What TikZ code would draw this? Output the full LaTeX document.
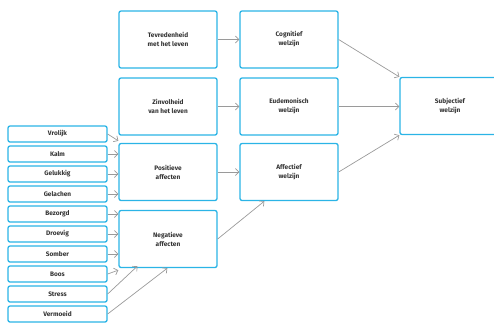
\documentclass[tikz,border=0pt]{standalone}
\usepackage{fontspec}
\setmainfont{Fira Sans}
\usetikzlibrary{arrows.meta}
\definecolor{kader}{HTML}{2BB4E6}
\definecolor{pijlgrijs}{HTML}{9A9A9A}
\definecolor{tekst}{HTML}{333333}
\tikzset{
  blok/.style={draw=kader, line width=1.3pt, rounded corners=2pt, fill=white,
               minimum width=98pt, minimum height=57pt, align=center,
               text=tekst, font=\fontsize{6.5}{9}\selectfont\bfseries},
  item/.style={blok, minimum width=99pt, minimum height=16pt},
  pijl/.style={draw=pijlgrijs, line width=0.7pt, -{Straight Barb[length=3.5pt,width=7pt]}}
}
\begin{document}
\begin{tikzpicture}[x=1pt,y=-1pt]
                                \clip (0,0) rectangle (494,322);
                                \node[blok] (tev) at (168,39.5) {Tevredenheid\\met het leven};
                                \node[blok] (cog) at (289,39.5) {Cognitief\\welzijn};
                                \node[blok] (zin) at (168,106.5) {Zinvolheid\\van het leven};
                                \node[blok] (eud) at (289,106.5) {Eudemonisch\\welzijn};
                                \node[blok,minimum width=100pt] (subj) at (450,106) {Subjectief\\welzijn};
                                \node[blok] (pos) at (168,172) {Positieve\\affecten};
                                \node[blok] (aff) at (289,172) {Affectief\\welzijn};
                                \node[blok] (neg) at (168,239) {Negatieve\\affecten};
                                % losse emoties links
                                \node[item] (vrolijk) at (57.5,134) {Vrolijk};
                                \node[item] (kalm) at (57.5,154) {Kalm};
                                \node[item] (gelukkig) at (57.5,174) {Gelukkig};
                                \node[item] (gelachen) at (57.5,194) {Gelachen};
                                \node[item] (bezorgd) at (57.5,214) {Bezorgd};
                                \node[item] (droevig) at (57.5,234) {Droevig};
                                \node[item] (somber) at (57.5,254) {Somber};
                                \node[item] (boos) at (57.5,274) {Boos};
                                \node[item] (stress) at (57.5,294) {Stress};
                                \node[item] (vermoeid) at (57.5,314) {Vermoeid};
                                % pijlen
                                \draw[pijl] (vrolijk.east) -- ([yshift=2pt]pos.north west);
                                \draw[pijl] (kalm.east) -- (pos.west |- kalm.east);
                                \draw[pijl] (gelukkig.east) -- (pos.west |- gelukkig.east);
                                \draw[pijl] (gelachen.east) -- (pos.west |- gelachen.east);
                                \draw[pijl] (bezorgd.east) -- (neg.west |- bezorgd.east);
                                \draw[pijl] (droevig.east) -- (neg.west |- droevig.east);
                                \draw[pijl] (somber.east) -- (neg.west |- somber.east);
                                \draw[pijl] (boos.east) -- ([yshift=-2pt]neg.south west);
                                \draw[pijl] (stress.east) -- ([xshift=19pt,yshift=2pt]neg.south west);
                                \draw[pijl] (vermoeid.east) -- ([xshift=49pt]neg.south west);
                                \draw[pijl] (tev) -- (cog);
                                \draw[pijl] (zin) -- (eud);
                                \draw[pijl] (pos) -- (aff);
                                \draw[pijl] (neg.east) -- ([xshift=25pt]aff.south west);
                                \draw[pijl] (cog.east) -- (subj.north west);
                                \draw[pijl] (eud) -- (eud -| subj.west);
                                \draw[pijl] (aff.east) -- (subj.south west);
                            \end{tikzpicture}
\end{document}
